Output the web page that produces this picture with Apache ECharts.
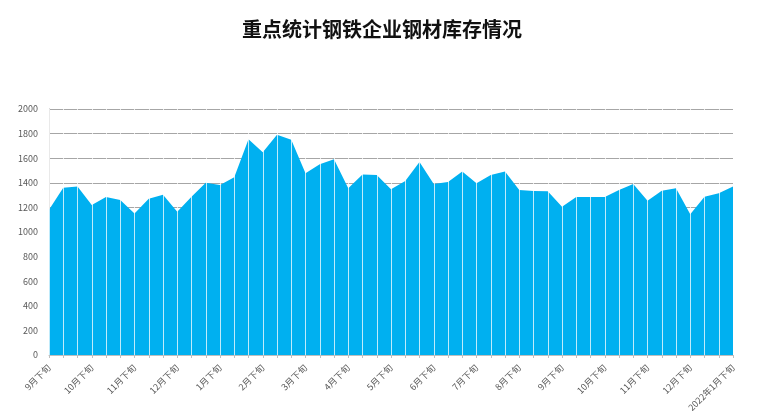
<!DOCTYPE html>
<html>
<head>
<meta charset="utf-8">
<script src="https://cdn.jsdelivr.net/npm/echarts@6/dist/echarts.min.js"></script>
<style>
  html, body { margin: 0; padding: 0; background: #fff; }
  #chart { width: 764px; height: 411px; }
</style>
</head>
<body>
<div id="chart"></div>
<script>
// 旬度数据：2020年9月下旬 ~ 2022年1月下旬
const categories = [
  '9月下旬',
  '10月上旬', '10月中旬', '10月下旬',
  '11月上旬', '11月中旬', '11月下旬',
  '12月上旬', '12月中旬', '12月下旬',
  '1月上旬', '1月中旬', '1月下旬',
  '2月上旬', '2月中旬', '2月下旬',
  '3月上旬', '3月中旬', '3月下旬',
  '4月上旬', '4月中旬', '4月下旬',
  '5月上旬', '5月中旬', '5月下旬',
  '6月上旬', '6月中旬', '6月下旬',
  '7月上旬', '7月中旬', '7月下旬',
  '8月上旬', '8月中旬', '8月下旬',
  '9月上旬', '9月中旬', '9月下旬',
  '10月上旬', '10月中旬', '10月下旬',
  '11月上旬', '11月中旬', '11月下旬',
  '12月上旬', '12月中旬', '12月下旬',
  '2022年1月上旬', '2022年1月中旬', '2022年1月下旬'
];
// 钢材库存（万吨）
const stockValues = [
  1180,
  1360, 1370, 1220,
  1285, 1260, 1150,
  1270, 1303, 1165,
  1287, 1401, 1382,
  1445, 1755, 1649,
  1790, 1749, 1478,
  1551, 1592, 1355,
  1467, 1464, 1347,
  1415, 1570, 1391,
  1407, 1491, 1396,
  1464, 1492, 1342,
  1334, 1331, 1206,
  1285, 1285, 1285,
  1342, 1391, 1255,
  1336, 1355, 1144,
  1287, 1315, 1369
];
const yTicks = { min: 0, max: 2000, interval: 200 };

const chart = echarts.init(document.getElementById('chart'));
const font = '"Noto Sans CJK SC", "Noto Sans", sans-serif';

const option = {
  backgroundColor: '#fff',
  animation: false,
  title: {
    text: '重点统计钢铁企业钢材库存情况',
    left: 'center',
    top: 14,
    textStyle: { fontFamily: font, fontSize: 20, fontWeight: 'bold', color: '#111' }
  },
  grid: { left: 49, right: 31, top: 109, bottom: 56, containLabel: false, outerBoundsMode: 'none' },
  xAxis: {
    type: 'category',
    data: categories,
    boundaryGap: false,
    z: 5,
    axisLine: { lineStyle: { color: '#bfbfbf', width: 1 } },
    axisTick: { show: true, interval: 0, length: 3, lineStyle: { color: '#bfbfbf' } },
    splitLine: { show: true, interval: 0, lineStyle: { color: 'rgba(255,255,255,0.75)', width: 1 } },
    axisLabel: {
      interval: 2,
      rotate: 45,
      margin: 11,
      fontFamily: font,
      fontSize: 9,
      color: '#595959'
    }
  },
  yAxis: {
    type: 'value',
    min: yTicks.min,
    max: yTicks.max,
    interval: yTicks.interval,
    axisLine: { show: true, lineStyle: { color: '#a6a6a6' } },
    axisTick: { show: false },
    splitLine: { lineStyle: { color: '#a6a6a6', width: 1 } },
    axisLabel: {
      fontFamily: font, fontSize: 9, color: '#595959', margin: 11,
      formatter: v => String(v)
    }
  },
  series: [
    {
      type: 'line',
      data: stockValues,
      symbol: 'none',
      lineStyle: { width: 0 },
      areaStyle: { color: '#00b0f0', opacity: 1 }
    }
  ]
};
chart.setOption(option);
</script>
</body>
</html>
